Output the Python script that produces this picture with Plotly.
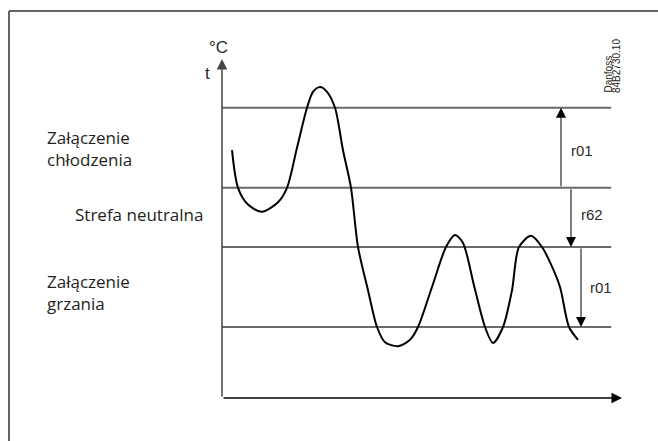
import plotly.graph_objects as go

# ---- data (arbitrary units: time ticks, temperature in units of r01) ----
r01 = 1.0          # differential
r62 = 0.74         # neutral zone
heat_on = 0.0
heat_off = heat_on + r01
cool_off = heat_off + r62
cool_on = cool_off + r01
levels = [heat_on, heat_off, cool_off, cool_on]

time = [0.25, 0.4, 0.65, 1.0, 1.4, 1.625, 1.875, 2.125, 2.275, 2.45, 2.625, 2.825,
        3.025, 3.225, 3.4, 3.65, 3.875, 4.075, 4.4, 4.7, 4.9, 5.25, 5.6, 5.825,
        6.025, 6.3, 6.575, 6.775, 7.025, 7.25, 7.425, 7.725, 8.0, 8.2, 8.45,
        8.675, 8.9]
temp = [2.21, 1.74, 1.53, 1.44, 1.56, 1.74, 2.24, 2.74, 2.94, 3.0, 2.94, 2.74,
        2.21, 1.74, 1.0, 0.46, 0.0, -0.19, -0.24, -0.16, 0.0, 0.5, 1.0, 1.15,
        1.05, 0.52, 0.0, -0.2, 0.0, 0.46, 1.0, 1.14, 1.0, 0.81, 0.5,
        0.0, -0.16]

t_end_lines = 9.73
t_axis_end = 10.0
T_axis_min = -0.8875
T_axis_max = 3.35

left_labels = [("Załączenie", 137), ("chłodzenia", 159), ("Strefa neutralna", 214),
               ("Załączenie", 281), ("grzania", 303)]

# pixel helpers for text placement only
W, H = 658, 441
def X(px):
    return (px - 222) / 40.0
def Y(py):
    return (327 - py) / 80.0

fig = go.Figure()

for lv in levels:
    fig.add_trace(go.Scatter(x=[0, t_end_lines], y=[lv, lv], mode="lines",
                             line=dict(color="#6a6a6a", width=2), hoverinfo="skip"))

fig.add_trace(go.Scatter(x=time, y=temp, mode="lines",
                         line=dict(color="black", width=2, shape="spline", smoothing=0.8),
                         hoverinfo="skip"))

ann = []
def arrow(x0, y0, x1, y1, color, width, size):
    ann.append(dict(x=x1, y=y1, ax=x0, ay=y0, xref="x", yref="y", axref="x", ayref="y",
                    text="", showarrow=True, arrowhead=2, arrowsize=size,
                    arrowwidth=width, arrowcolor=color, standoff=0, startstandoff=0))

# axes
arrow(0, T_axis_min, 0, T_axis_max, "#444444", 1.5, 1.4)
arrow(0, T_axis_min, t_axis_end, T_axis_min, "black", 1.5, 1.4)
# dimension arrows
arrow(8.475, cool_off, 8.475, cool_on, "black", 1, 2)
arrow(8.725, cool_off, 8.725, heat_off, "black", 1, 2)
arrow(8.975, heat_off, 8.975, heat_on, "black", 1, 2)

txt_font = dict(family="Open Sans", size=17, color="#231f20")
lab_font = dict(family="Liberation Sans, Arial", size=15, color="#2a2a2a")
unit_font = dict(family="Liberation Sans, Arial", size=17, color="#2a2a2a")

xs = {"Strefa neutralna": 73}
for s, py in left_labels:
    ann.append(dict(x=X(xs.get(s, 45)), y=Y(py), xref="x", yref="y", text=s,
                    showarrow=False, xanchor="left", yanchor="middle", font=txt_font))

for s, px, py in [("r01", 569, 150), ("r62", 579, 214), ("r01", 588, 287)]:
    ann.append(dict(x=X(px), y=Y(py), xref="x", yref="y", text=s, showarrow=False,
                    xanchor="left", yanchor="middle", font=lab_font))

ann.append(dict(x=X(218), y=Y(47), xref="x", yref="y", text="°C", showarrow=False,
                xanchor="center", yanchor="middle", font=unit_font))
ann.append(dict(x=X(207), y=Y(73), xref="x", yref="y", text="t", showarrow=False,
                xanchor="center", yanchor="middle", font=unit_font))

small = dict(family="Liberation Sans, Arial", size=10, color="#231f20")
for s, px in [("Danfoss", 608), ("84B2730.10", 616)]:
    ann.append(dict(x=X(px), y=Y(95), xref="x", yref="y", text=s, showarrow=False,
                    textangle=-90, xanchor="center", yanchor="bottom", font=small))

shapes = [
    dict(type="line", xref="paper", yref="paper", x0=9 / W, x1=1.02, y0=1 - 11 / H, y1=1 - 11 / H,
         line=dict(color="#333333", width=1.5)),
    dict(type="line", xref="paper", yref="paper", x0=9 / W, x1=9 / W, y0=1 - 11 / H, y1=-0.02,
         line=dict(color="#333333", width=1.5)),
]

fig.update_layout(
    width=W, height=H, margin=dict(l=0, r=0, t=0, b=0),
    paper_bgcolor="white", plot_bgcolor="white", showlegend=False,
    xaxis=dict(range=[X(0), X(W)], visible=False, fixedrange=True),
    yaxis=dict(range=[Y(H), Y(0)], visible=False, fixedrange=True),
    annotations=ann, shapes=shapes,
)

fig.write_html("out.html", config={"displayModeBar": False},
               post_script="document.body.style.margin='0';document.body.style.padding='0';")
